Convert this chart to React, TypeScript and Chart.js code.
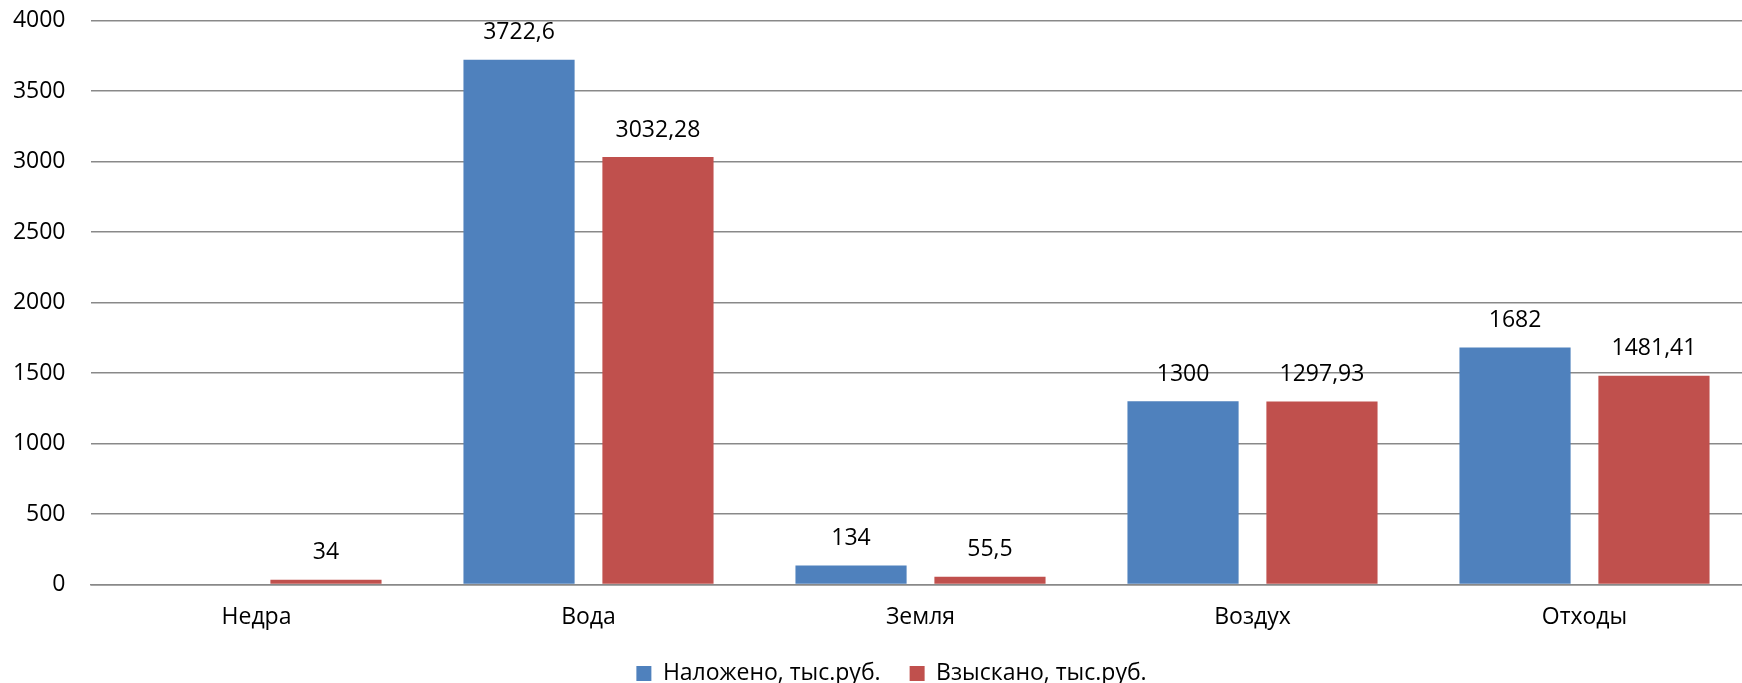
import React, { useEffect, useRef } from "react";
import { Chart, registerables } from "chart.js";

Chart.register(...registerables);

const categories = ["Недра", "Вода", "Земля", "Воздух", "Отходы"];
const imposed: (number | null)[] = [null, 3722.6, 134, 1300, 1682];
const collected: (number | null)[] = [34, 3032.28, 55.5, 1297.93, 1481.41];
const seriesNames = ["Наложено, тыс.руб.", "Взыскано, тыс.руб."];
const seriesColors = ["#4F81BD", "#C0504D"];
const yMin = 0;
const yMax = 4000;
const yStep = 500;

const FONT = "'Open Sans', 'Noto Sans', sans-serif";
const FONT_SIZE = 23;
const GRID = "#898989";

const fmt = (v: number) => String(v).replace(".", ",");

const dataLabels = {
  id: "dataLabels",
  afterDatasetsDraw(chart: any) {
    const ctx = chart.ctx;
    ctx.save();
    ctx.font = `${FONT_SIZE}px ${FONT}`;
    ctx.fillStyle = "#000";
    ctx.textAlign = "center";
    ctx.textBaseline = "middle";
    chart.data.datasets.forEach((ds: any, i: number) => {
      const meta = chart.getDatasetMeta(i);
      meta.data.forEach((el: any, j: number) => {
        const v = ds.data[j];
        if (v == null) return;
        ctx.fillText(fmt(v), el.x, el.y - 27);
      });
    });
    ctx.restore();
  },
};

export default function App() {
  const ref = useRef<HTMLCanvasElement>(null);

  useEffect(() => {
    if (!ref.current) return;
    const font = { family: FONT, size: FONT_SIZE };
    const chart = new Chart(ref.current, {
      type: "bar",
      data: {
        labels: categories,
        datasets: [
          {
            label: seriesNames[0],
            data: imposed,
            backgroundColor: seriesColors[0],
            borderWidth: 0,
            yAxisID: "y",
          },
          {
            label: seriesNames[1],
            data: collected,
            backgroundColor: seriesColors[1],
            borderWidth: 0,
            yAxisID: "y",
          },
        ],
      },
      options: {
        animation: false,
        responsive: false,
        maintainAspectRatio: false,
        datasets: {
          bar: { categoryPercentage: 0.837, barPercentage: 0.8 },
        },
        layout: { padding: { left: 10, right: 0, top: 20.7, bottom: 0 } },
        plugins: {
          legend: {
            position: "bottom",
            labels: {
              boxWidth: 15,
              boxHeight: 15,
              padding: 29,
              color: "#000",
              font,
            },
          },
          tooltip: { enabled: false },
        },
        scales: {
          x: {
            grid: { display: false },
            border: { display: true, color: GRID, width: 1.5 },
            ticks: { color: "#000", font, padding: 11 },
            afterFit(s: any) {
              s.height = 48.5;
              s.paddingLeft = 0;
              s.paddingRight = 0;
            },
          },
          y: {
            position: "left",
            min: yMin,
            max: yMax,
            ticks: {
              stepSize: yStep,
              color: "#000",
              font,
              padding: 25,
              callback: (v: any) => String(v),
            },
            grid: { color: GRID, lineWidth: 1.5, drawTicks: false },
            border: { display: false },
            afterFit(s: any) {
              s.width = 80.5;
              s.paddingTop = 0;
              s.paddingBottom = 0;
            },
          },
          yRightSpace: {
            position: "right",
            display: true,
            grid: { display: false, drawTicks: false },
            border: { display: false },
            ticks: { display: false },
            afterFit(s: any) {
              s.width = 22.5;
              s.paddingTop = 0;
              s.paddingBottom = 0;
            },
          },
        },
      } as any,
      plugins: [dataLabels],
    });
    return () => chart.destroy();
  }, []);

  return (
    <div
      style={{
        position: "fixed",
        left: 0,
        top: 0,
        width: 1742,
        height: 683,
        overflow: "hidden",
        background: "#fff",
      }}
    >
      <canvas ref={ref} width={1773} height={695} style={{ display: "block" }} />
    </div>
  );
}
